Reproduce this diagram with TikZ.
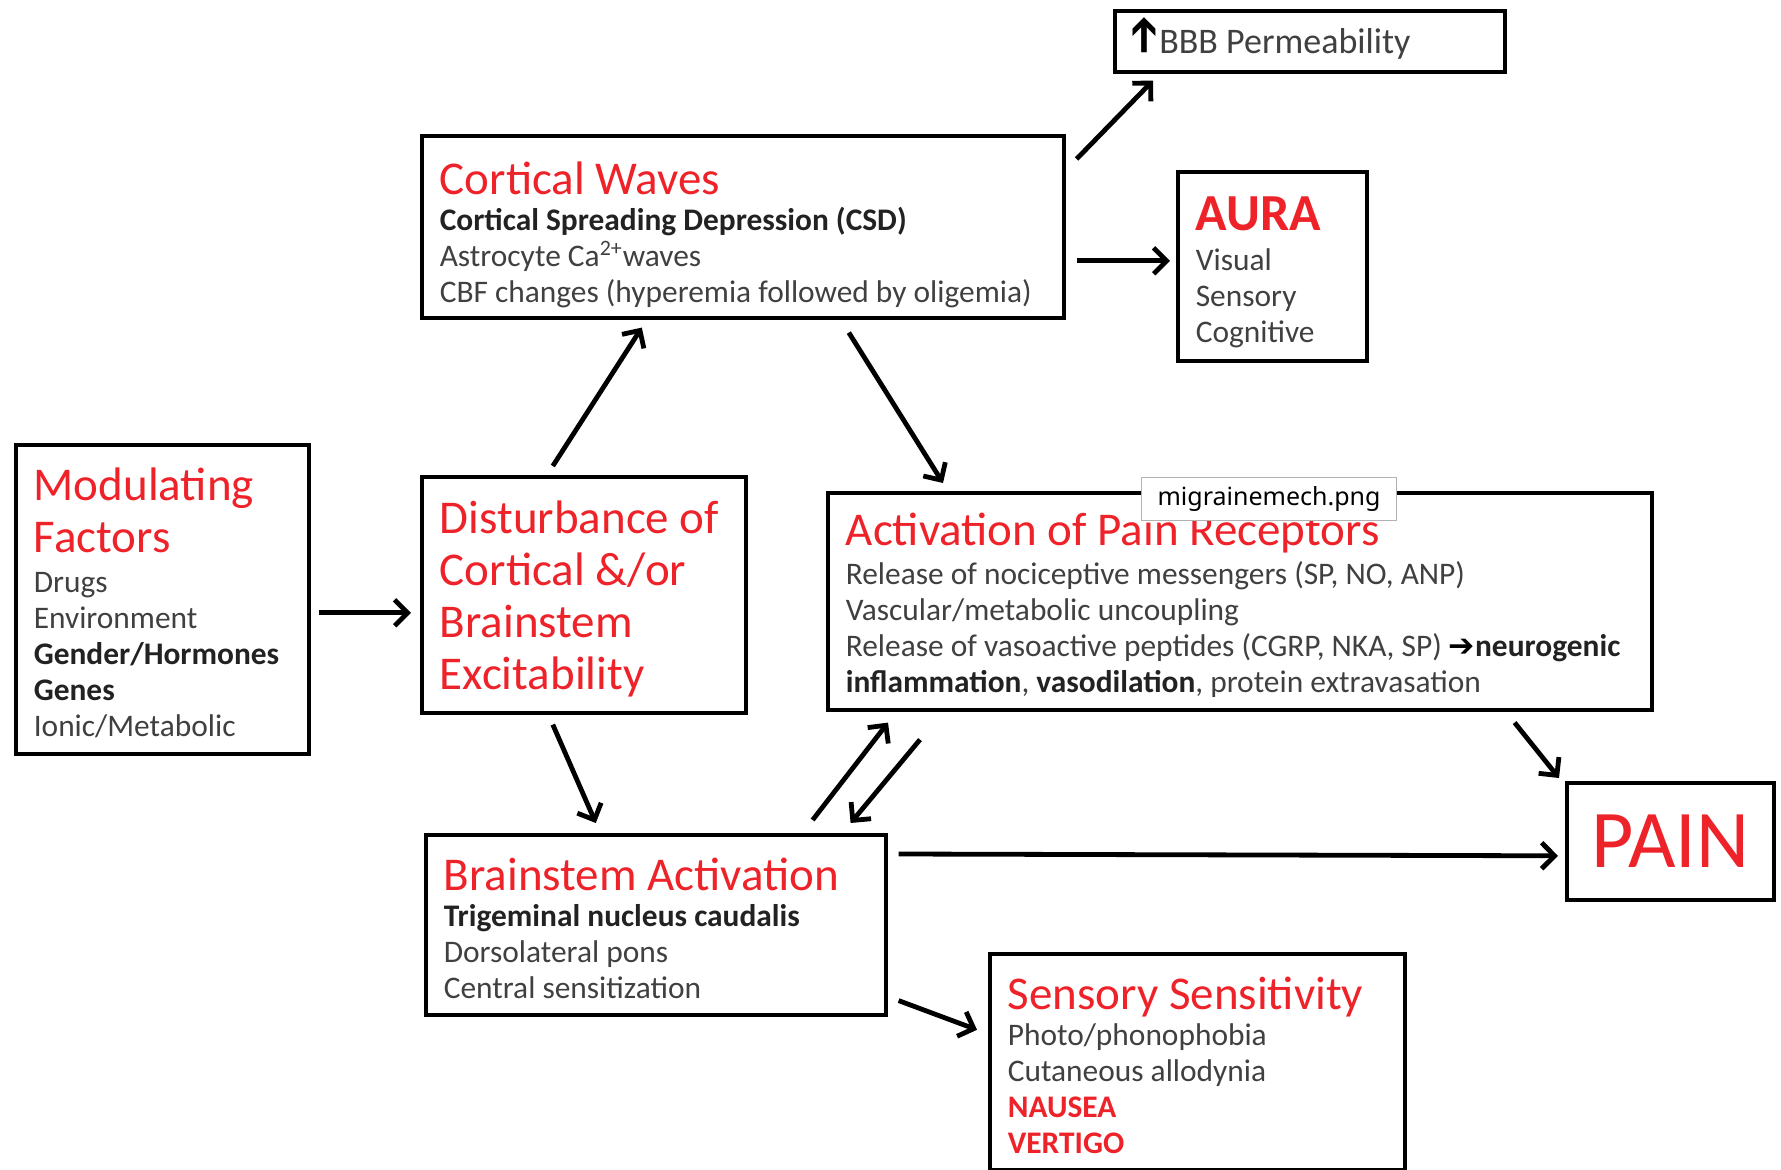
\documentclass[tikz,border=0pt]{standalone}
\usepackage{fontspec}
\usepackage{graphicx}
\setmainfont{Carlito}
\newfontfamily\symfont{DejaVu Sans}
\newfontfamily\tagfont{Noto Sans}
\usetikzlibrary{arrows.meta}

\definecolor{hdred}{HTML}{EE2229}
\definecolor{txgray}{HTML}{404040}
\definecolor{txdark}{HTML}{222222}
\newcommand{\hdfont}{\fontsize{23.5}{26}\selectfont\color{hdred}}
\newcommand{\txfont}{\fontsize{15.7}{18}\selectfont\color{txgray}}
\newcommand{\txb}[1]{\textbf{\color{txdark}#1}}

\begin{document}
\begin{tikzpicture}[x=1pt,y=-1pt,
  stage/.style={draw,line width=1.8pt,rectangle,anchor=north west,align=left,
    inner xsep=9pt,inner ysep=0pt,font=\txfont,
    execute at begin node={\spaceskip=0pt\relax\xspaceskip=0pt\relax},
    execute at end node={\endgraf\kern-#1\relax}},
  stage/.default=4pt,
  link/.style={line width=2.4pt,-{Straight Barb[length=6.5pt,width=13pt]}}]
\useasboundingbox (0,0) rectangle (890.5,585);

% top row
\node[stage,minimum width=195pt,minimum height=30.5pt,text width=177pt,
  font=\fontsize{18}{20}\selectfont\color{txgray}] (b_bbb) at (556.5,4.5)
  {{\symfont\bfseries\color{black}\smash{\raisebox{-1pt}{\rotatebox{90}{\fontsize{24}{24}\selectfont➔}}}}BBB Permeability};
\node[stage=8pt,minimum width=321pt,minimum height=91pt,text width=303pt] (b_cw) at (210,67)
  {{\hdfont Cortical Waves}\\
   \txb{Cortical Spreading Depression (CSD)}\\
   Astrocyte Ca\textsuperscript{2+}waves\\
   \mbox{CBF changes (hyperemia followed by oligemia)}};
\node[stage=6pt,minimum width=94.5pt,minimum height=94.5pt,text width=76.5pt] (b_aura) at (588,85)
  {{\fontsize{26}{28}\selectfont\bfseries\color{hdred}AURA}\\[2pt]
   Visual\\ Sensory\\ Cognitive};

% middle row
\node[stage,minimum width=146.5pt,minimum height=154.5pt,text width=128.5pt] (b_mod) at (7,221.5)
  {{\hdfont Modulating\\ Factors\par}\vspace{2pt}
   Drugs\\ Environment\\ \mbox{\txb{Gender/Hormones}}\\ \txb{Genes}\\ Ionic/Metabolic};
\node[stage,minimum width=162pt,minimum height=118pt,text width=144pt,font=\hdfont] (b_dist) at (210,237.5)
  {Disturbance of\\ Cortical \&/or\\ Brainstem\\ Excitability};
\node[stage,minimum width=412pt,minimum height=108.5pt,text width=394pt] (b_act) at (413,245.5)
  {{\hdfont Activation of Pain Receptors}\\[1.5pt]
   Release of nociceptive messengers (SP, NO, ANP)\\
   Vascular/metabolic uncoupling\\
   \mbox{Release of vasoactive peptides (CGRP, NKA, SP) {\symfont\bfseries\color{black}➔}\txb{neurogenic}}\\
   \txb{inflammation}, \txb{vasodilation}, protein extravasation};
\node[anchor=north west,draw=gray!60,line width=0.5pt,fill=white,minimum width=127.5pt,
  minimum height=21.5pt,inner sep=0pt,font=\tagfont\fontsize{12.5}{14}\selectfont] (b_tag) at (570.5,238.5)
  {migrainemech.png};
\node[stage,align=center,minimum width=103.5pt,minimum height=58.5pt,text width=85.5pt,
  font=\fontsize{41}{44}\selectfont\color{hdred}] (b_pain) at (782.5,390.5) {PAIN};

% bottom row
\node[stage,minimum width=230pt,minimum height=90pt,text width=212pt] (b_stem) at (212,416.5)
  {{\hdfont Brainstem Activation}\\
   \txb{Trigeminal nucleus caudalis}\\
   Dorsolateral pons\\
   Central sensitization};
\node[stage,minimum width=207.5pt,minimum height=108pt,text width=189.5pt] (b_sens) at (494,476)
  {{\hdfont Sensory Sensitivity}\\
   Photo/phonophobia\\
   Cutaneous allodynia\\
   \textbf{\color{hdred}NAUSEA}\\
   \textbf{\color{hdred}VERTIGO}};

\path[link]
  ([shift={(5.5,12.5)}]b_cw.north east) edge ([shift={(20,3.5)}]b_bbb.south west)
  ([shift={(5.5,17)}]b_cw.east) edge ([shift={(-3,-2.75)}]b_aura.west)
  ([shift={(53,6.5)}]b_cw.south) edge ([shift={(58.5,-4)}]b_act.north west)
  ([shift={(-15.5,-4.5)}]b_dist.north) edge ([shift={(-50.5,4)}]b_cw.south)
  ([shift={(4,6.75)}]b_mod.east) edge ([shift={(-4.5,9)}]b_dist.west)
  ([shift={(-15.5,5)}]b_dist.south) edge ([shift={(-30,-5)}]b_stem.north)
  ([shift={(-37.5,-6.5)}]b_stem.north east) edge ([shift={(31,5.5)}]b_act.south west)
  ([shift={(47,14)}]b_act.south west) edge ([shift={(-18.5,-5)}]b_stem.north east)
  ([shift={(-69.5,5.5)}]b_act.south east) edge ([shift={(-3,-1.5)}]b_pain.north west)
  ([shift={(5.5,10.5)}]b_stem.north east) edge ([shift={(-3.5,7.25)}]b_pain.west)
  ([shift={(5.5,-8)}]b_stem.south east) edge ([shift={(-5.5,-16)}]b_sens.west);
\end{tikzpicture}
\end{document}
